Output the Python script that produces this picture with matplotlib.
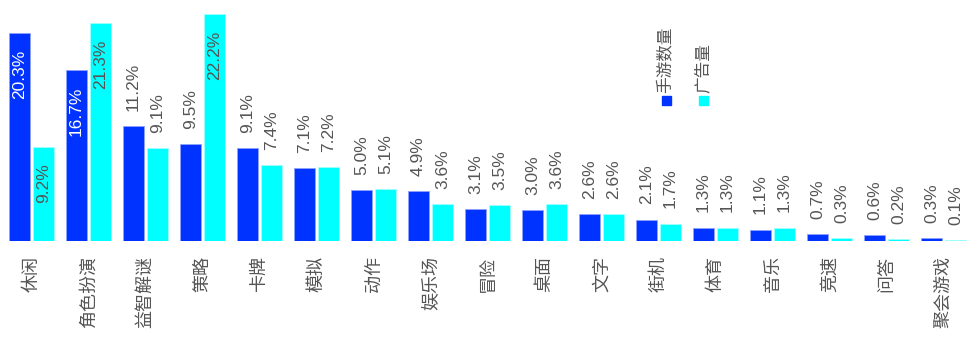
import numpy as np
import matplotlib.pyplot as plt
from matplotlib.patches import Rectangle

plt.rcParams['font.family'] = ['Noto Sans CJK SC', 'DejaVu Sans']

categories = ['休闲', '角色扮演', '益智解谜', '策略', '卡牌', '模拟', '动作', '娱乐场', '冒险',
              '桌面', '文字', '街机', '体育', '音乐', '竞速', '问答', '聚会游戏']
games = [20.3, 16.7, 11.2, 9.5, 9.1, 7.1, 5.0, 4.9, 3.1, 3.0, 2.6, 2.1, 1.3, 1.1, 0.7, 0.6, 0.3]
ads = [9.2, 21.3, 9.1, 22.2, 7.4, 7.2, 5.1, 3.6, 3.5, 3.6, 2.6, 1.7, 1.3, 1.3, 0.3, 0.2, 0.1]
series_names = ['手游数量', '广告量']

# labels that sit inside the bar top (index of category)
inside_games = {0, 1}
inside_ads = {0, 1, 3}

blue = '#0033ff'
cyan = '#00ffff'
grey = '#555555'

fig = plt.figure(figsize=(9.75, 3.37), dpi=100)
ax = fig.add_axes([3 / 975, 96 / 337, 969 / 975, 227 / 337])

x = np.arange(len(categories))
w = 0.37
off = 0.21
b1 = ax.bar(x - off, games, w, color=blue, edgecolor='#8fa3ff', linewidth=0.6)
b2 = ax.bar(x + off, ads, w, color=cyan, edgecolor='#a0ffff', linewidth=0.6)

def label(bars, vals, inside, in_color):
    for i, (b, v) in enumerate(zip(bars, vals)):
        cx = b.get_x() + b.get_width() / 2
        if i in inside:
            ax.annotate(f'{v:.1f}%', (cx, v), xytext=(0, -12), textcoords='offset points',
                        rotation=90, ha='center', va='top', fontsize=12.5,
                        color=in_color, family=['Liberation Sans', 'DejaVu Sans'])
        else:
            ax.annotate(f'{v:.1f}%', (cx, v), xytext=(0, 11), textcoords='offset points',
                        rotation=90, ha='center', va='bottom', fontsize=12.5,
                        color=grey, family=['Liberation Sans', 'DejaVu Sans'])

label(b1, games, inside_games, 'white')
label(b2, ads, inside_ads, grey)

ax.set_xlim(-0.5, len(categories) - 0.5)
ax.set_ylim(0, 22.2)
ax.set_xticks(x)
ax.set_xticklabels(categories, rotation=90, fontsize=13, color=grey, va='top')
ax.tick_params(axis='x', length=0, pad=11)
ax.set_yticks([])
for s in ax.spines.values():
    s.set_visible(False)

# legend, vertical text above small squares
leg_x = [666 / 975, 703 / 975]
for lx, name, c in zip(leg_x, series_names, [blue, cyan]):
    fig.patches.append(Rectangle((lx - 4.5 / 975, 1 - 105 / 337), 9 / 975, 9 / 337,
                                 transform=fig.transFigure, color=c))
    fig.text(lx, 1 - 93 / 337, name, rotation=90, ha='center', va='bottom',
             fontsize=12, color=grey)

fig.savefig('out.png', dpi=100)
